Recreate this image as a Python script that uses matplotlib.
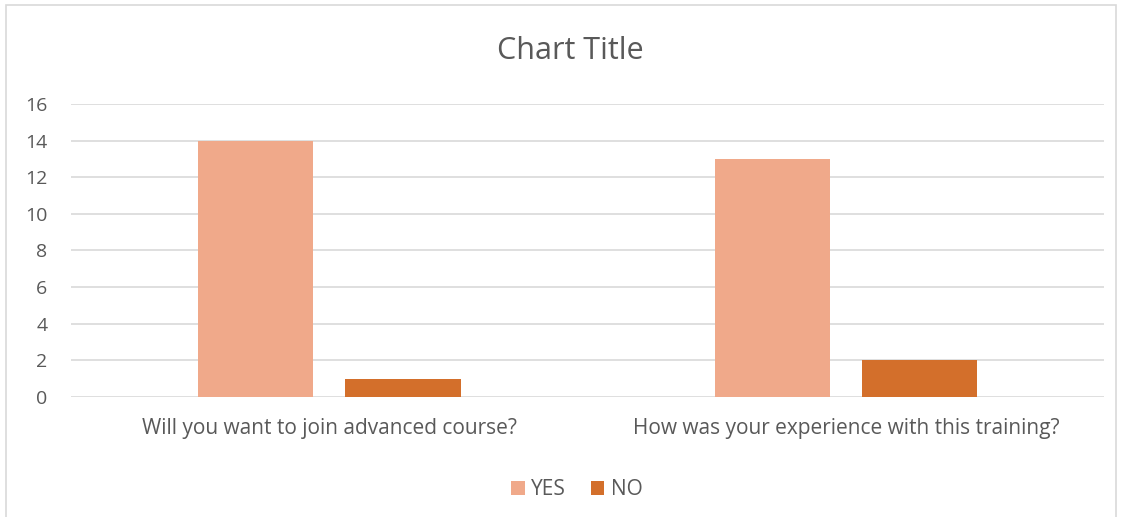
import numpy as np
import matplotlib.pyplot as plt
from matplotlib.patches import Rectangle

categories = ['Will you want to join advanced course?', 'How was your experience with this training?']
yes_values = [14, 13]
no_values = [1, 2]

plt.rcParams['font.family'] = ['Open Sans', 'DejaVu Sans']
text_color = '#595959'

fig = plt.figure(figsize=(11.22, 5.17), dpi=100)
ax = fig.add_axes([0.0633, 0.232, 0.921, 0.567])

# chart area border
fig.patches.append(Rectangle((6 / 1122, -0.01), 1110 / 1122, 1 - 5 / 517 + 0.01,
                             transform=fig.transFigure, fill=False,
                             edgecolor='#d9d9d9', linewidth=1.2))

x = np.arange(len(categories))
w = 0.223
off = 0.1425
ax.bar(x - off, yes_values, w, color='#F0A98A', label='YES', zorder=3)
ax.bar(x + off, no_values, w, color='#D36F2B', label='NO', zorder=3)

ax.set_xlim(-0.5, 1.5)
ax.set_ylim(0, 16)
ax.set_yticks(range(0, 17, 2))
ax.set_xticks(x)
ax.set_xticklabels(categories)
ax.grid(axis='y', color='#d9d9d9', linewidth=1.2, zorder=0)
for s in ax.spines.values():
    s.set_visible(False)
ax.tick_params(axis='both', length=0, colors=text_color)
ax.tick_params(axis='x', pad=15, labelsize=15)
ax.tick_params(axis='y', pad=17, labelsize=14)

fig.text(0.508, 0.902, 'Chart Title', ha='center', va='center', fontsize=22, color=text_color)

leg = fig.legend(loc='center', bbox_to_anchor=(0.514, 0.053), ncol=2, frameon=False,
                 fontsize=15, handlelength=0.65, handleheight=0.65, handletextpad=0.3,
                 columnspacing=1.2)
for t in leg.get_texts():
    t.set_color(text_color)

plt.savefig('out.png', dpi=100)
